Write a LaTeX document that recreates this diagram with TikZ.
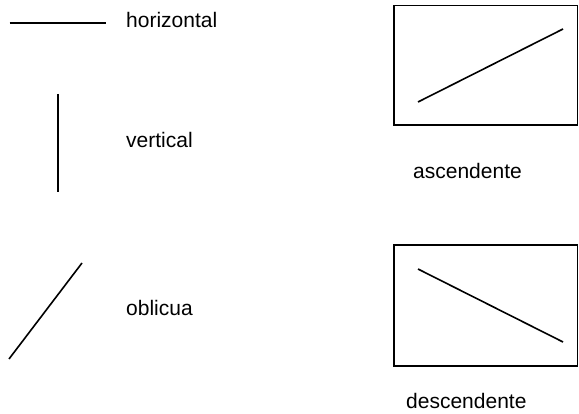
\documentclass[tikz,border=0pt]{standalone}
\usepackage{fontspec}
\setmainfont{Liberation Sans}
\begin{document}
\begin{tikzpicture}[x=1pt,y=-1pt,
  lbl/.style={anchor=base west,inner sep=0pt,font=\fontsize{21}{25}\selectfont},
  seg/.style={line width=1.6pt},
  frame/.style={draw,line width=1.4pt}]
\useasboundingbox (0,0) rectangle (579,414);
% horizontal
\coordinate (h1) at (9.5,23);
\coordinate (h2) at (106,23);
\draw[seg] (h1) -- (h2);
\node[lbl] (th) at (126,28) {horizontal};
% vertical
\coordinate (v1) at (58,94);
\coordinate (v2) at (58,192);
\draw[seg] (v1) -- (v2);
\node[lbl] (tv) at (126,148) {vertical};
% oblicua
\coordinate (o1) at (9,359);
\coordinate (o2) at (82,263);
\draw[seg] (o1) -- (o2);
\node[lbl] (to) at (126,316) {oblicua};
% ascendente
\draw[frame] (394,5.5) rectangle (577.5,125);
\coordinate (a1) at (418,102);
\coordinate (a2) at (563,29);
\draw[seg] (a1) -- (a2);
\node[lbl] (ta) at (413,179) {ascendente};
% descendente
\draw[frame] (394,245) rectangle (577.5,366);
\coordinate (d1) at (418,269);
\coordinate (d2) at (563,342);
\draw[seg] (d1) -- (d2);
\node[lbl] (td) at (406,409) {descendente};
\end{tikzpicture}
\end{document}
